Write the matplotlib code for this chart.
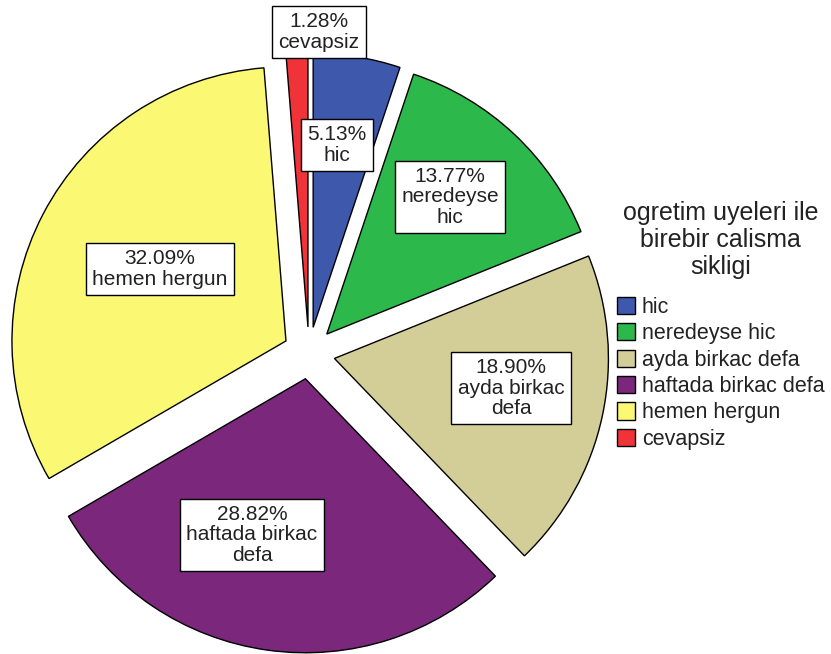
import matplotlib.pyplot as plt
import numpy as np

plt.rcParams['font.family'] = ['Liberation Sans', 'DejaVu Sans']

kategoriler = ['hic', 'neredeyse hic', 'ayda birkac defa', 'haftada birkac defa', 'hemen hergun', 'cevapsiz']
yuzdeler = [5.13, 13.77, 18.90, 28.82, 32.09, 1.28]
etiketler = ['5.13%\nhic', '13.77%\nneredeyse\nhic', '18.90%\nayda birkac\ndefa',
             '28.82%\nhaftada birkac\ndefa', '32.09%\nhemen hergun', '1.28%\ncevapsiz']
renkler = ['#3E58AC', '#2DB84B', '#D3CE97', '#7B277B', '#FBF873', '#EF3338']

# etiket kutularinin yerleri (piksel, ust-sol koseden)
etiket_yer = [(337, 145), (450, 197), (511, 388), (252, 535), (160, 269), (319, 32)]

W, H = 831, 654
fig = plt.figure(figsize=(W/100, H/100), dpi=100)
ax = fig.add_axes([0, 0, 1, 1])
ax.axis('off')

merkez = (309, H - 353)
R = 274
wedges, _ = ax.pie(yuzdeler, colors=renkler, startangle=90, counterclock=False,
                   explode=[26]*len(yuzdeler), center=merkez, radius=R,
                   wedgeprops=dict(edgecolor='black', linewidth=1))
ax.set_xlim(0, W)
ax.set_ylim(0, H)
ax.set_aspect('auto')

for txt, (x, y) in zip(etiketler, etiket_yer):
    ax.text(x, H - y, txt, ha='center', va='center', fontsize=15, linespacing=1.1,
            color='#222222',
            bbox=dict(boxstyle='square,pad=0.3', facecolor='white', edgecolor='black', linewidth=1))

leg = fig.legend(wedges, kategoriler, title='ogretim uyeleri ile\nbirebir calisma\nsikligi',
                 loc='upper left', bbox_to_anchor=(617/W, 1 - 201/H), frameon=False,
                 fontsize=15.5, title_fontsize=18, handlelength=0.85, handleheight=0.85,
                 handletextpad=0.3, labelspacing=0.25, borderpad=0, borderaxespad=0)
leg.get_title().set_multialignment('center')
leg.get_title().set_color('#222222')
leg.get_title().set_linespacing(1.15)
leg._legend_box.sep = 13
for t in leg.get_texts():
    t.set_color('#222222')

fig.savefig('out.png', dpi=100)
